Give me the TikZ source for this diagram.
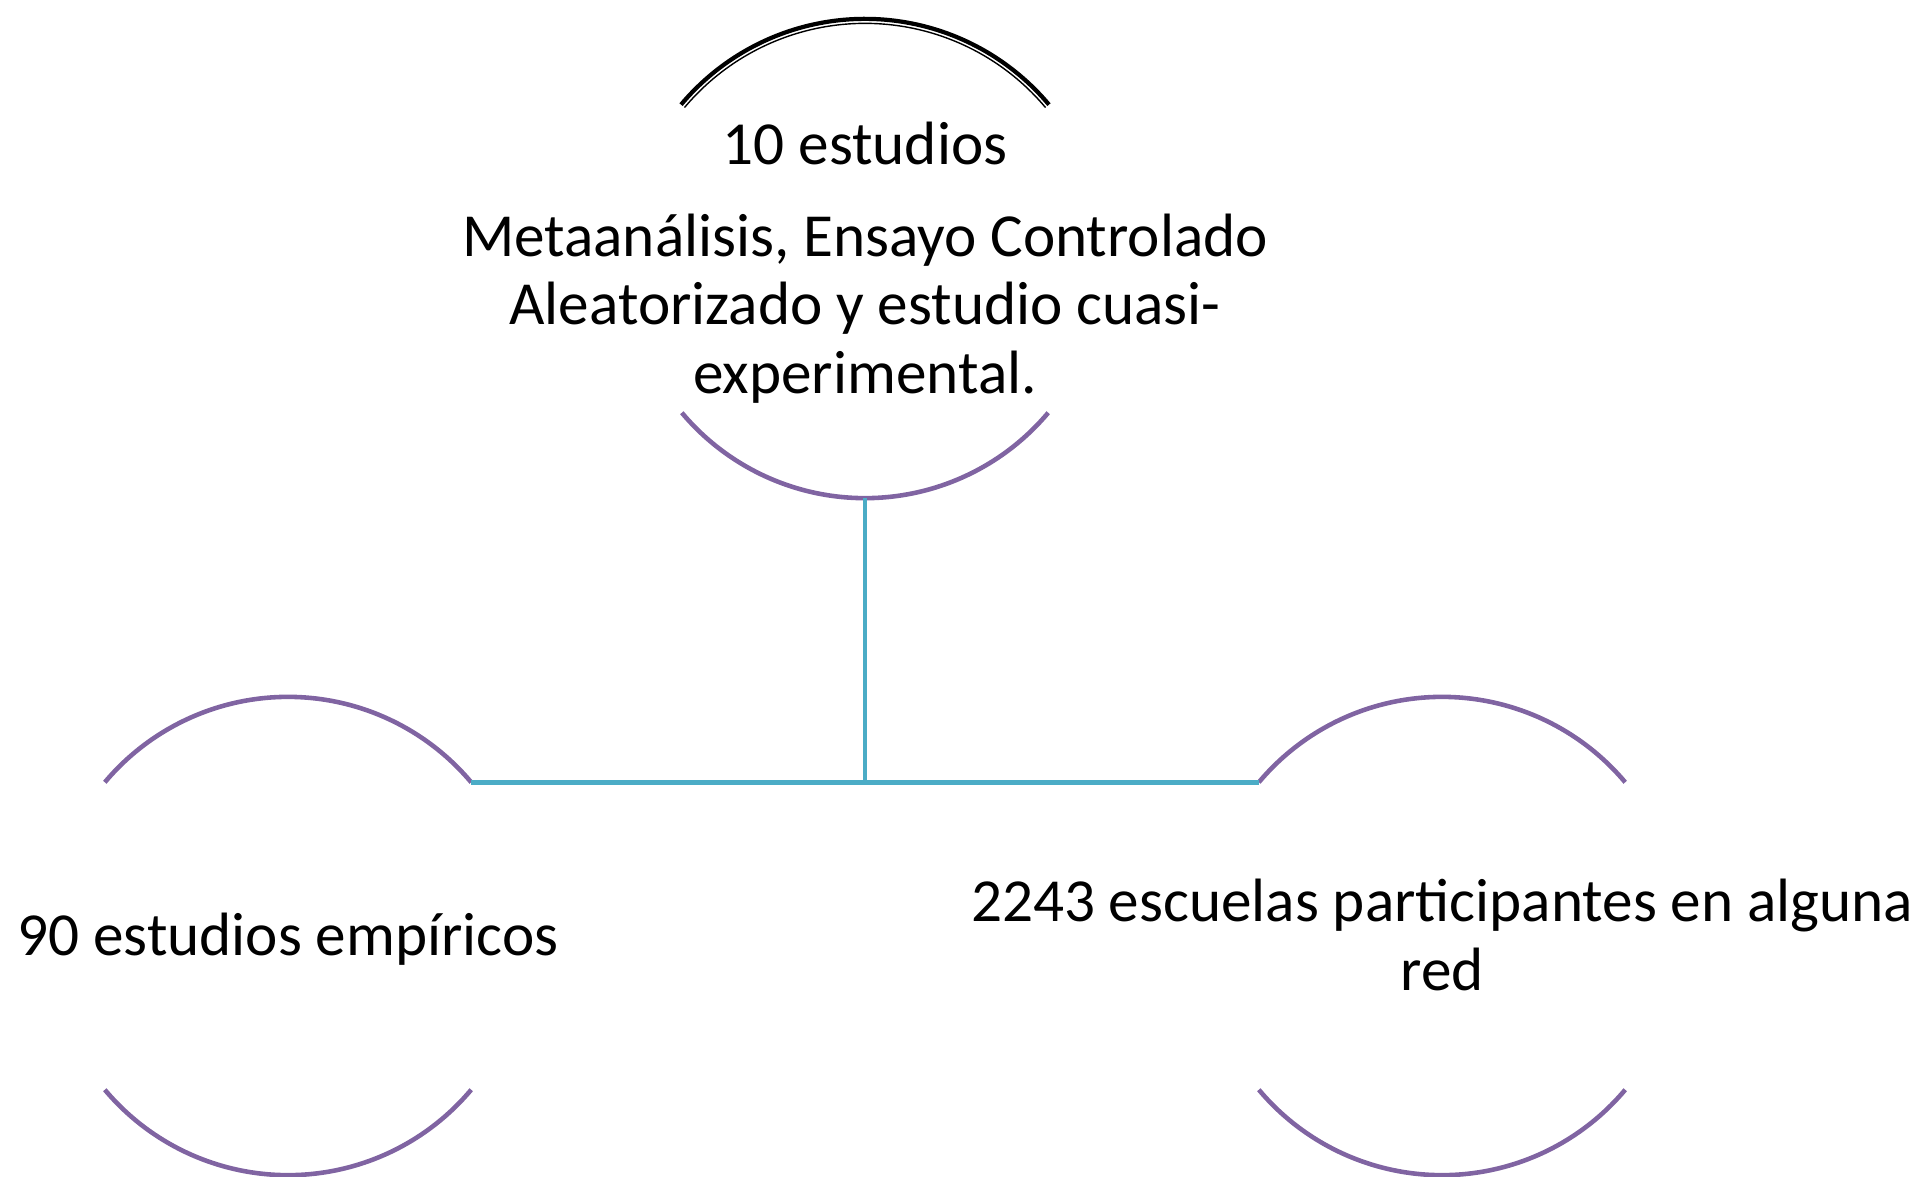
\documentclass[tikz,border=0pt]{standalone}
\usepackage{fontspec}
\setmainfont{Carlito}
\usetikzlibrary{positioning,calc}
\definecolor{purp}{HTML}{8064A2}
\definecolor{aqua}{HTML}{4BACC6}

\begin{document}
\begin{tikzpicture}[x=0.01cm, y=0.01cm,
    ring/.style={circle, inner sep=0pt, outer sep=0pt, minimum size=4.78cm},
    rim/.style={draw=purp, line width=1.3pt},
    link/.style={draw=aqua, line width=1.3pt},
    txt/.style={align=center, inner sep=0pt, yshift=-1pt, font=\fontsize{17.4}{19.5}\selectfont}]
    \useasboundingbox (0,0) rectangle (1919,-1176);
    % circles
    \node[ring] (study) at (865,-259) {};
    \node[ring] (empir) at (288,-936) {};
    \node[ring] (school) at (1442,-936) {};
    % arcs
    \draw[line width=1.2pt] ($(study)+(140:2.40cm)$) arc[start angle=140, end angle=40, radius=2.40cm];
    \draw[line width=0.4pt] ($(study)+(140:2.355cm)$) arc[start angle=140, end angle=40, radius=2.355cm];
    \draw[rim] (study.220) arc[start angle=220, end angle=320, radius=2.39cm];
    \draw[rim] (empir.140) arc[start angle=140, end angle=40, radius=2.39cm];
    \draw[rim] (empir.220) arc[start angle=220, end angle=320, radius=2.39cm];
    \draw[rim] (school.140) arc[start angle=140, end angle=40, radius=2.39cm];
    \draw[rim] (school.220) arc[start angle=220, end angle=320, radius=2.39cm];
    % connectors
    \coordinate (fork) at (study.south |- empir.40);
    \draw[link] (study.south) -- (fork);
    \draw[link] (empir.40) -- (school.140);
    % texts
    \node[txt] (studytxt) at (study) {10 estudios\\[6.6pt]Metaanálisis, Ensayo Controlado\\Aleatorizado y estudio cuasi-\\experimental.};
    \node[txt] (empirtxt) at (empir) {90 estudios empíricos};
    \node[txt, yshift=1.3pt] (schooltxt) at (school) {2243 escuelas participantes en alguna\\red};
\end{tikzpicture}
\end{document}
